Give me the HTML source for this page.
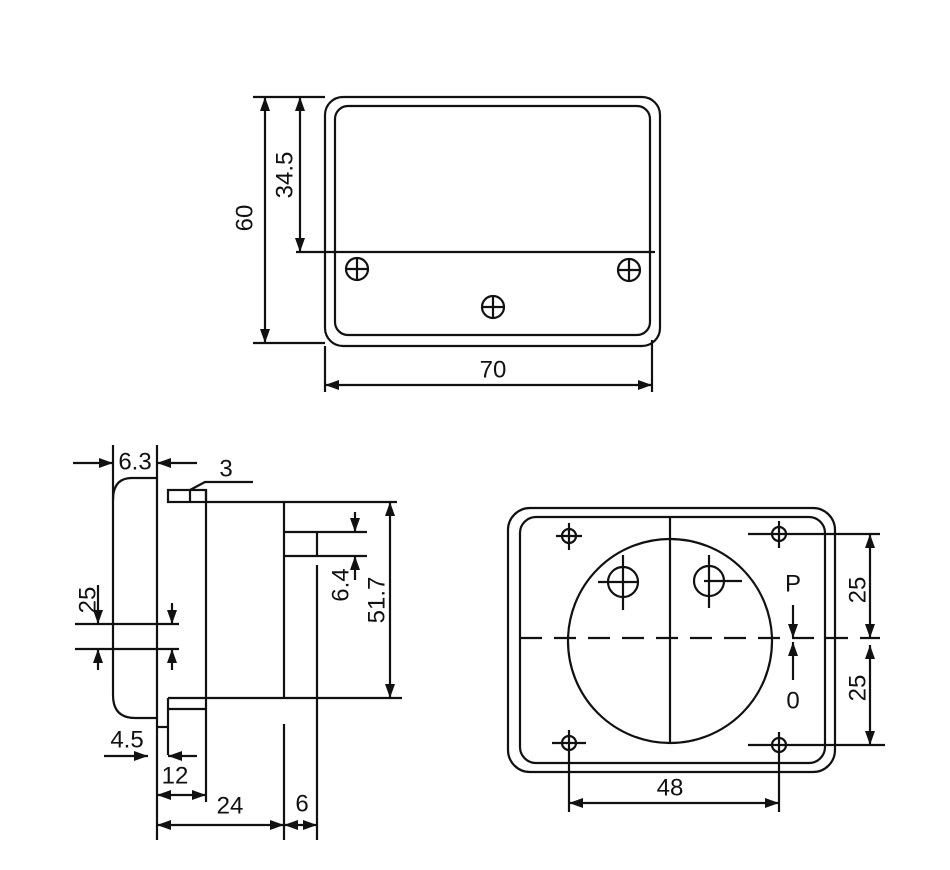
<!DOCTYPE html>
<html><head><meta charset="utf-8"><style>
html,body{margin:0;padding:0;background:#fff;}
svg{display:block;}
text{font-family:"Liberation Sans",sans-serif;font-size:24px;fill:#111;}
</style></head><body>
<svg width="950" height="870" viewBox="0 0 950 870" xmlns="http://www.w3.org/2000/svg">
<defs>
<marker id="a" viewBox="0 0 14 10" refX="14" refY="5" markerWidth="14" markerHeight="10" markerUnits="userSpaceOnUse" orient="auto-start-reverse"><path d="M0,0 L14,5 L0,10 z" fill="#111"/></marker>
</defs>
<g stroke="#111" stroke-width="2.2" fill="none">
<rect x="325" y="97" width="335" height="249" rx="18"/>
<rect x="335" y="106" width="315" height="229" rx="13"/>
<line x1="296" y1="252" x2="655" y2="252"/>
<circle cx="357" cy="269" r="11"/><line x1="346" y1="269" x2="368" y2="269"/><line x1="357" y1="258" x2="357" y2="280"/>
<circle cx="629" cy="270" r="11"/><line x1="618" y1="270" x2="640" y2="270"/><line x1="629" y1="259" x2="629" y2="281"/>
<circle cx="493" cy="307" r="11"/><line x1="482" y1="307" x2="504" y2="307"/><line x1="493" y1="296" x2="493" y2="318"/>
<line x1="253" y1="97" x2="325" y2="97"/>
<line x1="253" y1="343" x2="325" y2="343"/>
<line x1="265" y1="97" x2="265" y2="343" marker-start="url(#a)" marker-end="url(#a)"/>
<line x1="300" y1="97" x2="300" y2="252" marker-start="url(#a)" marker-end="url(#a)"/>
<line x1="325" y1="346" x2="325" y2="392"/>
<line x1="652" y1="340" x2="652" y2="392"/>
<line x1="325" y1="385" x2="652" y2="385" marker-start="url(#a)" marker-end="url(#a)"/>

<path d="M157,478 L132,478 Q113,478 113,500 L113,695 Q113,718 135,718 L157,718"/>
<line x1="113" y1="445" x2="113" y2="500"/>
<line x1="157" y1="445" x2="157" y2="840"/>
<rect x="168" y="490" width="38" height="12"/>
<line x1="190" y1="490" x2="190" y2="502"/>
<path d="M190,490 L205,482 L253,482"/>
<line x1="206" y1="490" x2="206" y2="802"/>
<line x1="206" y1="502" x2="397" y2="502"/>
<line x1="284" y1="502" x2="284" y2="698"/>
<line x1="284" y1="724" x2="284" y2="840"/>
<line x1="168" y1="698" x2="402" y2="698"/>
<line x1="168" y1="709" x2="206" y2="709"/>
<line x1="168" y1="698" x2="168" y2="755"/>
<line x1="157" y1="727" x2="168" y2="727"/>
<line x1="284" y1="532" x2="367" y2="532"/>
<line x1="284" y1="556" x2="367" y2="556"/>
<line x1="317" y1="532" x2="317" y2="556"/>
<line x1="317" y1="565" x2="317" y2="840"/>
<line x1="355" y1="512" x2="355" y2="532" marker-end="url(#a)"/>
<line x1="355" y1="580" x2="355" y2="556" marker-end="url(#a)"/>
<line x1="390" y1="502" x2="390" y2="698" marker-start="url(#a)" marker-end="url(#a)"/>
<line x1="75" y1="624" x2="179" y2="624"/>
<line x1="75" y1="649" x2="179" y2="649"/>
<line x1="98" y1="585" x2="98" y2="624" marker-end="url(#a)"/>
<line x1="98" y1="670" x2="98" y2="649" marker-end="url(#a)"/>
<line x1="172" y1="603" x2="172" y2="624" marker-end="url(#a)"/>
<line x1="172" y1="670" x2="172" y2="649" marker-end="url(#a)"/>
<line x1="73" y1="463" x2="113" y2="463" marker-end="url(#a)"/>
<line x1="197" y1="463" x2="157" y2="463" marker-end="url(#a)"/>
<line x1="104" y1="756" x2="148" y2="756" marker-end="url(#a)"/>
<line x1="197" y1="756" x2="168" y2="756" marker-end="url(#a)"/>
<line x1="157" y1="795" x2="206" y2="795" marker-start="url(#a)" marker-end="url(#a)"/>
<line x1="157" y1="825" x2="284" y2="825" marker-start="url(#a)" marker-end="url(#a)"/>
<line x1="284" y1="825" x2="317" y2="825" marker-start="url(#a)" marker-end="url(#a)"/>

<rect x="508" y="508" width="327" height="264" rx="22"/>
<rect x="520" y="517" width="305" height="246" rx="16"/>
<circle cx="670" cy="641" r="102"/>
<line x1="670" y1="517" x2="670" y2="742"/>
<line x1="520" y1="638" x2="880" y2="638" stroke-dasharray="22,12"/>
<circle cx="569" cy="536" r="7"/><line x1="556" y1="536" x2="582" y2="536"/><line x1="569" y1="523" x2="569" y2="550"/>
<circle cx="779" cy="534" r="7"/><line x1="748" y1="534" x2="880" y2="534"/><line x1="779" y1="521" x2="779" y2="548"/>
<circle cx="569" cy="743" r="7"/><line x1="552" y1="743" x2="586" y2="743"/><line x1="569" y1="730" x2="569" y2="812"/>
<circle cx="779" cy="745" r="7"/><line x1="748" y1="745" x2="885" y2="745"/><line x1="779" y1="732" x2="779" y2="812"/>
<circle cx="623" cy="582" r="15"/><line x1="598" y1="582" x2="638" y2="582"/><line x1="623" y1="555" x2="623" y2="610"/>
<circle cx="709" cy="581" r="15"/><line x1="704" y1="581" x2="742" y2="581"/><line x1="709" y1="555" x2="709" y2="608"/>
<line x1="870" y1="534" x2="870" y2="638" marker-start="url(#a)" marker-end="url(#a)"/>
<line x1="870" y1="645" x2="870" y2="745" marker-start="url(#a)" marker-end="url(#a)"/>
<line x1="793" y1="605" x2="793" y2="638" marker-end="url(#a)"/>
<line x1="793" y1="680" x2="793" y2="642" marker-end="url(#a)"/>
<line x1="569" y1="803" x2="779" y2="803" marker-start="url(#a)" marker-end="url(#a)"/>
</g>
<g>
<text x="245" y="218" text-anchor="middle" transform="rotate(-90 245 218)" dominant-baseline="central">60</text>
<text x="285" y="175" text-anchor="middle" transform="rotate(-90 285 175)" dominant-baseline="central">34.5</text>
<text x="493" y="370" text-anchor="middle" dominant-baseline="central">70</text>
<text x="135" y="462" text-anchor="middle" dominant-baseline="central">6.3</text>
<text x="226" y="469" text-anchor="middle" dominant-baseline="central">3</text>
<text x="88" y="600" text-anchor="middle" transform="rotate(-90 88 600)" dominant-baseline="central">25</text>
<text x="341" y="585" text-anchor="middle" transform="rotate(-90 341 585)" dominant-baseline="central">6.4</text>
<text x="377" y="600" text-anchor="middle" transform="rotate(-90 377 600)" dominant-baseline="central">51.7</text>
<text x="127" y="740" text-anchor="middle" dominant-baseline="central">4.5</text>
<text x="175" y="776" text-anchor="middle" dominant-baseline="central">12</text>
<text x="230" y="806" text-anchor="middle" dominant-baseline="central">24</text>
<text x="302" y="804" text-anchor="middle" dominant-baseline="central">6</text>
<text x="793" y="584" text-anchor="middle" dominant-baseline="central">P</text>
<text x="793" y="701" text-anchor="middle" dominant-baseline="central">0</text>
<text x="858" y="590" text-anchor="middle" transform="rotate(-90 858 590)" dominant-baseline="central">25</text>
<text x="858" y="688" text-anchor="middle" transform="rotate(-90 858 688)" dominant-baseline="central">25</text>
<text x="670" y="788" text-anchor="middle" dominant-baseline="central">48</text>
</g>
</svg>
</body></html>
